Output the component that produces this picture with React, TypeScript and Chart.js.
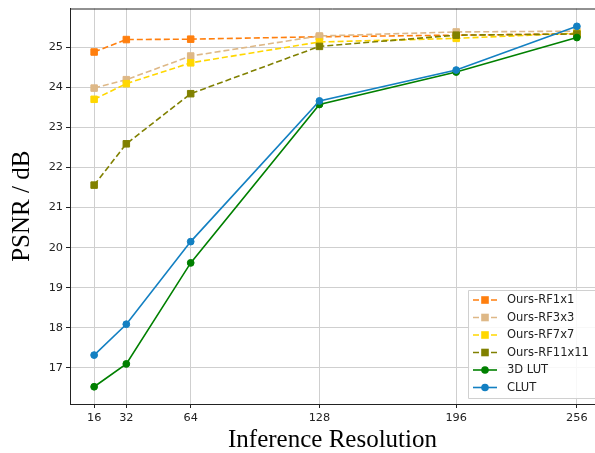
import React, { useEffect, useRef } from "react";
import { Chart, registerables } from "chart.js";
Chart.register(...registerables);

const resolutions = [16, 32, 64, 128, 196, 256];
const yTickValues = [17, 18, 19, 20, 21, 22, 23, 24, 25];
const rf1x1 = [24.88, 25.19, 25.2, 25.26, 25.3, 25.33];
const rf3x3 = [23.98, 24.19, 24.78, 25.28, 25.38, 25.4];
const rf7x7 = [23.7, 24.09, 24.61, 25.13, 25.22, 25.35];
const rf11x11 = [21.56, 22.59, 23.84, 25.02, 25.3, 25.33];
const lut3d = [16.53, 17.1, 19.62, 23.57, 24.38, 25.24];
const clut = [17.32, 18.09, 20.15, 23.66, 24.43, 25.52];

const seriesLabels = ["Ours-RF1x1", "Ours-RF3x3", "Ours-RF7x7", "Ours-RF11x11", "3D LUT", "CLUT"];
const seriesValues = [rf1x1, rf3x3, rf7x7, rf11x11, lut3d, clut];
const seriesColors = ["#ff7f0e", "#deb887", "#ffd700", "#808000", "#008000", "#1380c2"];
const seriesDashed = [true, true, true, true, false, false];

const TICK_FONT = "'DejaVu Sans', sans-serif";
const TITLE_FONT = "'Liberation Serif', 'Times New Roman', serif";

export default function App() {
  const ref = useRef<HTMLCanvasElement | null>(null);

  useEffect(() => {
    const canvas = ref.current;
    if (!canvas) return;

    const bgPlugin = {
      id: "bg",
      beforeDraw(chart: any) {
        const { ctx, width, height } = chart;
        ctx.save();
        ctx.fillStyle = "#ffffff";
        ctx.fillRect(0, 0, width, height);
        ctx.restore();
      },
    };

    const framePlugin = {
      id: "frame",
      afterDraw(chart: any) {
        const { ctx, chartArea } = chart;
        ctx.save();
        ctx.strokeStyle = "#222222";
        ctx.lineWidth = 1;
        ctx.beginPath();
        ctx.moveTo(chartArea.left, chartArea.top + 0.5);
        ctx.lineTo(chartArea.right, chartArea.top + 0.5);
        ctx.stroke();
        ctx.restore();
      },
    };

    const legendPlugin = {
      id: "customLegend",
      afterDraw(chart: any) {
        const { ctx } = chart;
        const x0 = 468;
        const y0 = 290;
        const w = 140;
        const h = 108;
        ctx.save();
        ctx.fillStyle = "rgba(255,255,255,0.85)";
        ctx.strokeStyle = "#d0d0d0";
        ctx.lineWidth = 1;
        ctx.beginPath();
        ctx.rect(x0 + 0.5, y0 + 0.5, w, h);
        ctx.fill();
        ctx.stroke();
        ctx.font = `11.5px ${TICK_FONT}`;
        ctx.textBaseline = "middle";
        ctx.textAlign = "left";
        seriesLabels.forEach((label, i) => {
          const y = y0 + 10 + i * 17.5;
          const color = seriesColors[i];
          ctx.strokeStyle = color;
          ctx.lineWidth = 1.6;
          ctx.setLineDash(seriesDashed[i] ? [6, 3] : []);
          ctx.beginPath();
          ctx.moveTo(473, y);
          ctx.lineTo(497, y);
          ctx.stroke();
          ctx.setLineDash([]);
          ctx.fillStyle = color;
          if (seriesDashed[i]) {
            ctx.fillRect(485 - 3.8, y - 3.8, 7.6, 7.6);
          } else {
            ctx.beginPath();
            ctx.arc(485, y, 3.8, 0, Math.PI * 2);
            ctx.fill();
          }
          ctx.fillStyle = "#222222";
          ctx.fillText(label, 507, y + 0.5);
        });
        ctx.restore();
      },
    };

    const datasets = seriesLabels.map((label, i) => ({
      label,
      data: resolutions.map((r, j) => ({ x: r, y: seriesValues[i][j] })),
      borderColor: seriesColors[i],
      backgroundColor: seriesColors[i],
      pointBackgroundColor: seriesColors[i],
      pointBorderColor: seriesColors[i],
      pointBorderWidth: 1,
      pointStyle: seriesDashed[i] ? "rect" : "circle",
      pointRadius: seriesDashed[i] ? 4.6 : 3.4,
      borderWidth: 1.6,
      borderDash: seriesDashed[i] ? [6, 3] : [],
      tension: 0,
      fill: false,
      clip: false,
      order: 10 - i,
    }));

    const chart = new Chart(canvas, {
      type: "line",
      data: { datasets },
      plugins: [bgPlugin, framePlugin, legendPlugin],
      options: {
        animation: false,
        responsive: false,
        maintainAspectRatio: false,
        layout: { autoPadding: false, padding: { top: 8.5, right: 0, left: 0, bottom: 0 } },
        plugins: {
          legend: { display: false },
          tooltip: { enabled: false },
        },
        scales: {
          x: {
            type: "linear",
            min: 4,
            max: 265,
            afterBuildTicks: (axis: any) => {
              axis.ticks = resolutions.map((v) => ({ value: v }));
            },
            afterFit: (axis: any) => {
              axis.height = 49;
              axis.paddingLeft = 0;
              axis.paddingRight = 0;
            },
            ticks: {
              font: { family: TICK_FONT, size: 11.3 },
              color: "#222222",
              padding: 3,
              maxRotation: 0,
              autoSkip: false,
              callback: (v: any) => String(v),
            },
            grid: {
              color: "#cfcfcf",
              lineWidth: 1,
              tickColor: "#222222",
              tickLength: 4,
            },
            border: { display: true, color: "#222222", width: 1 },
            title: {
              display: true,
              text: "Inference Resolution",
              font: { family: TITLE_FONT, size: 25, lineHeight: 1 },
              color: "#000000",
              padding: { top: 0, bottom: 0 },
            },
          },
          y: {
            type: "linear",
            min: 16.1,
            max: 25.965,
            afterBuildTicks: (axis: any) => {
              axis.ticks = yTickValues.map((v) => ({ value: v }));
            },
            afterFit: (axis: any) => {
              axis.width = 70;
              axis.paddingTop = 0;
              axis.paddingBottom = 0;
            },
            ticks: {
              font: { family: TICK_FONT, size: 11.3 },
              color: "#222222",
              padding: 3,
              autoSkip: false,
              callback: (v: any) => String(v),
            },
            grid: {
              color: "#cfcfcf",
              lineWidth: 1,
              tickColor: "#222222",
              tickLength: 4,
            },
            border: { display: true, color: "#222222", width: 1 },
            title: {
              display: true,
              text: "PSNR / dB",
              font: { family: TITLE_FONT, size: 25, lineHeight: 1 },
              color: "#000000",
              padding: { top: 9.5, bottom: 0 },
            },
          },
        },
      },
    });

    return () => chart.destroy();
  }, []);

  return (
    <div style={{ position: "absolute", left: 0, top: 0, width: 595, height: 453, background: "#fff" }}>
      <canvas ref={ref} width={595} height={453} style={{ display: "block", width: 595, height: 453 }} />
    </div>
  );
}
